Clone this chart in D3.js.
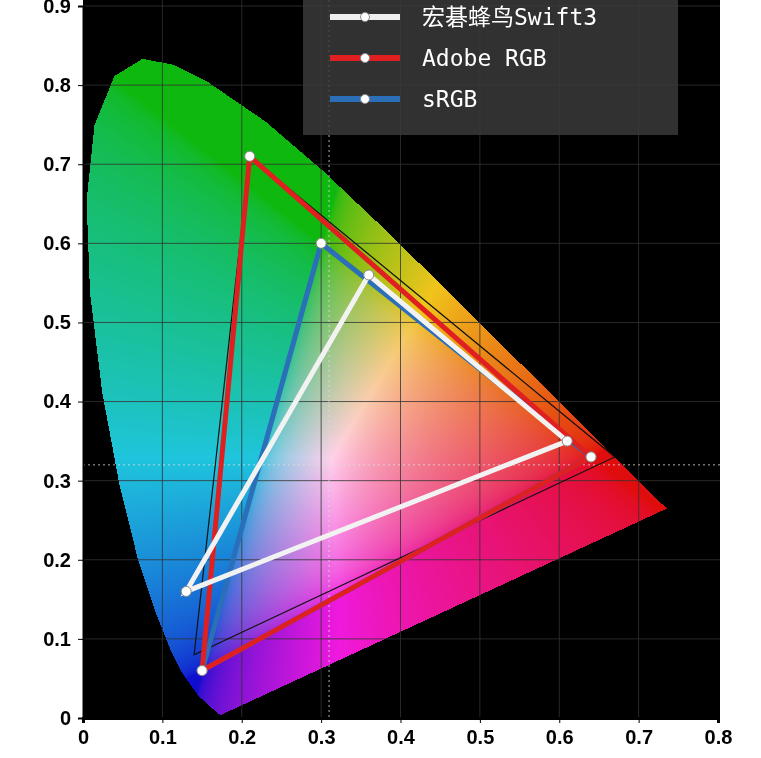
<!DOCTYPE html>
<html><head><meta charset="utf-8">
<script src="https://cdn.jsdelivr.net/npm/d3@7"></script>
<style>body{margin:0;background:#fff}#wrap{position:relative;width:761px;height:758px}canvas,svg{position:absolute;left:0;top:0}</style>
</head><body><div id="wrap"><canvas id="cv" width="761" height="758"></canvas><svg id="sv" width="761" height="758"></svg></div>
<script>
// CIE 1931 spectral locus (x, y)
const locus = [[.1741,.005],[.1733,.0048],[.1714,.0051],[.1689,.0069],[.1644,.0109],[.1566,.0177],[.144,.0297],[.1241,.0578],[.1096,.0868],[.0913,.1327],[.0687,.2007],[.0454,.295],[.0235,.4127],[.0082,.5384],[.0039,.6548],[.0139,.7502],[.0389,.812],[.0743,.8338],[.1142,.8262],[.1547,.8059],[.2296,.7543],[.3016,.6923],[.3731,.6245],[.4441,.5547],[.5125,.4866],[.5752,.4242],[.627,.3725],[.6915,.3083],[.719,.2809],[.7347,.2653]];
const swift3 = [[.36,.56],[.61,.35],[.13,.16]];
const adobe = [[.21,.71],[.64,.33],[.15,.06]];
const srgb = [[.30,.60],[.64,.33],[.15,.06]];
const ntsc = [[.21,.71],[.67,.33],[.14,.08]];
const whitePt = [0.31, 0.32];
const xTicks = [0,.1,.2,.3,.4,.5,.6,.7,.8];
const yTicks = [0,.1,.2,.3,.4,.5,.6,.7,.8,.9];
const legendNames = ["宏碁蜂鸟Swift3","Adobe RGB","sRGB"];
const legendColors = ["#eeeeee","#e02020","#2a6fb8"];

const x = d3.scaleLinear().domain([0,0.8]).range([83,718]);
const y = d3.scaleLinear().domain([0,0.9]).range([718,6]);

// background colour field
const ctx = document.getElementById("cv").getContext("2d");
ctx.fillStyle = "#000"; ctx.fillRect(83,0,637,718);
const img = ctx.getImageData(83,0,637,718);
const g = v => v<=0.0031308 ? 12.92*v : 1.055*Math.pow(v,1/2.4)-0.055;
for (let py=0; py<718; py++) for (let px=0; px<637; px++) {
  const cx = x.invert(px+83), cy = y.invert(py);
  if (cy<=0.001 || !d3.polygonContains(locus,[cx,cy])) continue;
  const X = cx/cy, Y = 1, Z = (1-cx-cy)/cy;
  let r = 3.2406*X-1.5372*Y-0.4986*Z, gg = -0.9689*X+1.8758*Y+0.0415*Z, b = 0.0557*X-0.204*Y+1.057*Z;
  r=Math.max(r,0); gg=Math.max(gg,0); b=Math.max(b,0);
  const m = Math.max(r,gg,b);
  let R=g(r/m), G=g(gg/m), B=g(b/m);
  const l = (R+G+B)/3;
  R=0.82*R+0.18*l; G=(0.82*G+0.18*l)*0.82; B=0.82*B+0.18*l;
  const i = (py*637+px)*4;
  img.data[i]=255*R; img.data[i+1]=255*G; img.data[i+2]=255*B*0.92; img.data[i+3]=255;
}
ctx.putImageData(img,83,0);

const svg = d3.select("#sv");
// grid
svg.append("g").selectAll("line").data(xTicks.slice(1,8)).join("line")
  .attr("x1",d=>x(d)).attr("x2",d=>x(d)).attr("y1",0).attr("y2",718)
  .attr("stroke","#333").attr("stroke-width",1).attr("opacity",0.8);
svg.append("g").selectAll("line").data(yTicks.slice(1)).join("line")
  .attr("x1",83).attr("x2",720).attr("y1",d=>y(d)).attr("y2",d=>y(d))
  .attr("stroke","#333").attr("stroke-width",1).attr("opacity",0.8);
// white point crosshair
svg.append("line").attr("x1",x(whitePt[0])).attr("x2",x(whitePt[0])).attr("y1",0).attr("y2",718)
  .attr("stroke","#ddd").attr("stroke-dasharray","2,3").attr("stroke-width",0.8);
svg.append("line").attr("x1",83).attr("x2",720).attr("y1",y(whitePt[1])).attr("y2",y(whitePt[1]))
  .attr("stroke","#ddd").attr("stroke-dasharray","2,3").attr("stroke-width",0.8);

const line = d3.line().x(d=>x(d[0])).y(d=>y(d[1])).curve(d3.curveLinearClosed);
svg.append("path").attr("d",line(ntsc)).attr("fill","none").attr("stroke","#111").attr("stroke-width",1.2);
[[srgb,"#2a6fb8"],[adobe,"#e02020"],[swift3,"#f2f2f2"]].forEach(([pts,c])=>{
  svg.append("path").attr("d",line(pts)).attr("fill","none").attr("stroke",c).attr("stroke-width",5).attr("stroke-linejoin","miter");
  svg.append("g").selectAll("circle").data(pts).join("circle")
    .attr("cx",d=>x(d[0])).attr("cy",d=>y(d[1])).attr("r",5)
    .attr("fill","#fff").attr("stroke","#888").attr("stroke-width",1);
});

// legend
const lg = svg.append("g");
lg.append("rect").attr("x",303).attr("y",0).attr("width",375).attr("height",135).attr("fill","#3a3a3a").attr("opacity",0.85);
legendNames.forEach((n,i)=>{
  const yy = 17+i*41;
  lg.append("line").attr("x1",330).attr("x2",400).attr("y1",yy).attr("y2",yy).attr("stroke",legendColors[i]).attr("stroke-width",6);
  lg.append("circle").attr("cx",365).attr("cy",yy).attr("r",4.5).attr("fill","#fff").attr("stroke","#888");
  lg.append("text").attr("x",422).attr("y",yy+8).text(n).attr("fill","#fff")
    .attr("font-family","'DejaVu Sans Mono','Noto Sans CJK SC',monospace").attr("font-size",23);
});

// axes
svg.append("g").attr("transform","translate(0,718)")
  .call(d3.axisBottom(x).tickValues(xTicks).tickFormat(d=>d===0?"0":d3.format(".1f")(d)).tickSize(5))
  .call(a=>a.select(".domain").attr("stroke-width",3))
  .selectAll("text").attr("font-family","Liberation Sans,Arial").attr("font-weight","bold").attr("font-size",20).attr("dy","0.9em");
svg.append("g").attr("transform","translate(83,0)")
  .call(d3.axisLeft(y).tickValues(yTicks).tickFormat(d=>d===0?"0":d3.format(".1f")(d)).tickSize(5))
  .call(a=>a.select(".domain").attr("stroke-width",2))
  .selectAll("text").attr("font-family","Liberation Sans,Arial").attr("font-weight","bold").attr("font-size",20).attr("dx","-0.2em");
</script></body></html>
